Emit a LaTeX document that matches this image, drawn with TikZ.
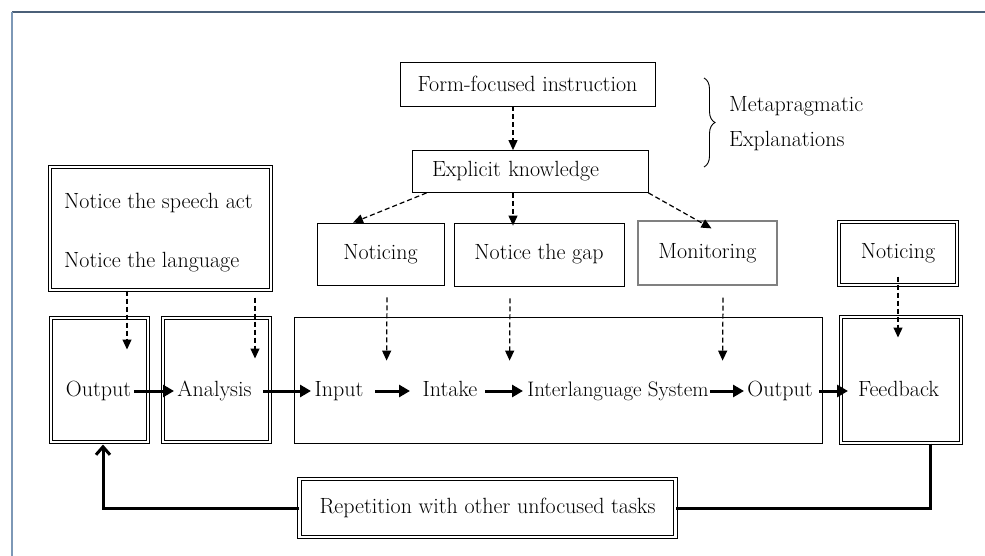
\documentclass[tikz,border=0pt]{standalone}
\usepackage{fontspec}
\usetikzlibrary{arrows.meta,decorations.pathreplacing}
\definecolor{frametop}{RGB}{75,96,120}
\definecolor{frameleft}{RGB}{125,152,182}
\newcommand{\bigfont}{\fontsize{22}{26}\selectfont}
\tikzset{
  txt/.style={inner sep=0pt, text height=15pt, text depth=5pt, font=\bigfont},
  box/.style={draw, line width=0.8pt, inner sep=0pt, font=\bigfont},
  dbox/.style={draw, line width=1pt, double, double distance=2.2pt, inner sep=0pt, font=\bigfont},
  tarr/.style={line width=3pt, -{Triangle[length=11pt,width=12pt]}},
  tline/.style={line width=3pt},
  darr/.style={line width=1.2pt, dash pattern=on 5pt off 3pt, -{Triangle[length=10pt,width=9pt]}},
}
\begin{document}
\begin{tikzpicture}[x=1pt,y=-1pt]
\useasboundingbox (0,0) rectangle (985,556);
% frame
\draw[frametop, line width=1.5pt] (985,12) -- (12,12);
\draw[frameleft, line width=1.5pt] (12,12) -- (12,556);

% top boxes
\node[box, minimum width=255pt, minimum height=44pt] (ffi) at (527.5,84) {Form-focused instruction};
\node[box, minimum width=236pt, minimum height=42pt, text width=196pt, align=left, inner xsep=20pt] (ek) at (530,171.5) {Explicit knowledge};

% brace and labels
\coordinate (bt) at (704,78);
\coordinate (bb) at (704,167);
\draw[line width=0.9pt, decorate, decoration={brace, amplitude=11pt}] (bt) -- (bb);
\node[txt, anchor=west] (meta) at (729,107) {Metapragmatic};
\node[txt, anchor=west] (expl) at (729,142) {Explanations};

% middle boxes
\node[box, minimum width=127pt, minimum height=62pt] (nt1) at (380.5,254) {Noticing};
\node[box, minimum width=170pt, minimum height=63pt] (gap) at (539,254.5) {Notice the gap};
\node[box, draw=gray, line width=1.2pt, minimum width=139pt, minimum height=64pt] (mon) at (707.5,253) {Monitoring};
\node[dbox, minimum width=118pt, minimum height=63pt] (nt2) at (898,253.5) {Noticing};

% left big box
\node[dbox, minimum width=221pt, minimum height=123pt] (notice) at (160.5,228.5) {};
\node[txt, anchor=west] (tsa) at (64,203) {Notice the speech act};
\node[txt, anchor=west] (tlang) at (64,262) {Notice the language};

% bottom row boxes
\node[dbox, minimum width=97pt, minimum height=124pt] (out) at (99.5,380) {};
\node[dbox, minimum width=107pt, minimum height=124pt] (ana) at (216.5,380) {};
\node[box, minimum width=528pt, minimum height=126pt] (big) at (558,380) {};
\node[dbox, minimum width=120pt, minimum height=126pt] (fb) at (901,380) {};

% row texts
\node[txt] (tout) at (98.5,391) {Output};
\node[txt] (tana) at (214.5,391) {Analysis};
\node[txt] (tin) at (339,391) {Input};
\node[txt] (tint) at (450,391) {Intake};
\node[txt, font=\fontsize{21}{25}\selectfont] (tils) at (618,391) {Interlanguage System};
\node[txt] (tout2) at (780,391) {Output};
\node[txt] (tfb) at (898.5,391) {Feedback};

% repetition box
\node[dbox, anchor=west, minimum height=58pt, inner xsep=20pt] (rep) at (299,508) {Repetition with other unfocused tasks};

% dashed arrows
\draw[darr] ([xshift=-14.5pt]ffi.south) -- ([xshift=-17pt]ek.north);
\draw[darr] ([xshift=15pt]ek.south west) -- ([xshift=-27.5pt]nt1.north);
\draw[darr] ([xshift=-17pt]ek.south) -- ([xshift=-26pt,yshift=-3pt]gap.north);
\draw[darr] (ek.south east) -- ([xshift=4pt,yshift=-8pt]mon.north);

\draw[darr] ([xshift=-33.5pt]notice.south) -- ([xshift=27.5pt,yshift=-32pt]out.north);
\draw[darr] ([xshift=94.5pt,yshift=-7pt]notice.south) -- ([xshift=38.5pt,yshift=-41pt]ana.north);

\draw[darr] ([xshift=6.5pt,yshift=-12pt]nt1.south) -- ([xshift=93pt,yshift=-44pt]big.north west);
\draw[darr] ([xshift=-29pt,yshift=-12pt]gap.south) -- ([xshift=216pt,yshift=-44pt]big.north west);
\draw[darr] ([xshift=15.5pt,yshift=-12pt]mon.south) -- ([xshift=429pt,yshift=-44pt]big.north west);
\draw[darr] ([yshift=9pt]nt2.south) -- ([xshift=-3pt,yshift=-21pt]fb.north);

% thick row arrows
\draw[tarr] ([xshift=35.5pt]tout.center) -- ([xshift=-40.5pt]tana.center);
\draw[tarr] ([xshift=48.5pt]tana.center) -- ([xshift=-28pt]tin.center);
\draw[tarr] ([xshift=36pt]tin.center) -- ([xshift=-40pt]tint.center);
\draw[tarr] ([xshift=35pt]tint.center) -- ([xshift=-95pt]tils.center);
\draw[tarr] ([xshift=92pt]tils.center) -- ([xshift=-36pt]tout2.center);
\draw[tarr] ([xshift=39pt]tout2.center) -- ([xshift=-50.5pt]tfb.center);

% feedback loop
\draw[tline] ([xshift=29pt]fb.south) |- (rep.east);
\draw[line width=3pt, -{Straight Barb[length=8pt,width=14pt]}] (rep.west) -| ([xshift=3.5pt,yshift=-2pt]out.south);
\end{tikzpicture}
\end{document}
